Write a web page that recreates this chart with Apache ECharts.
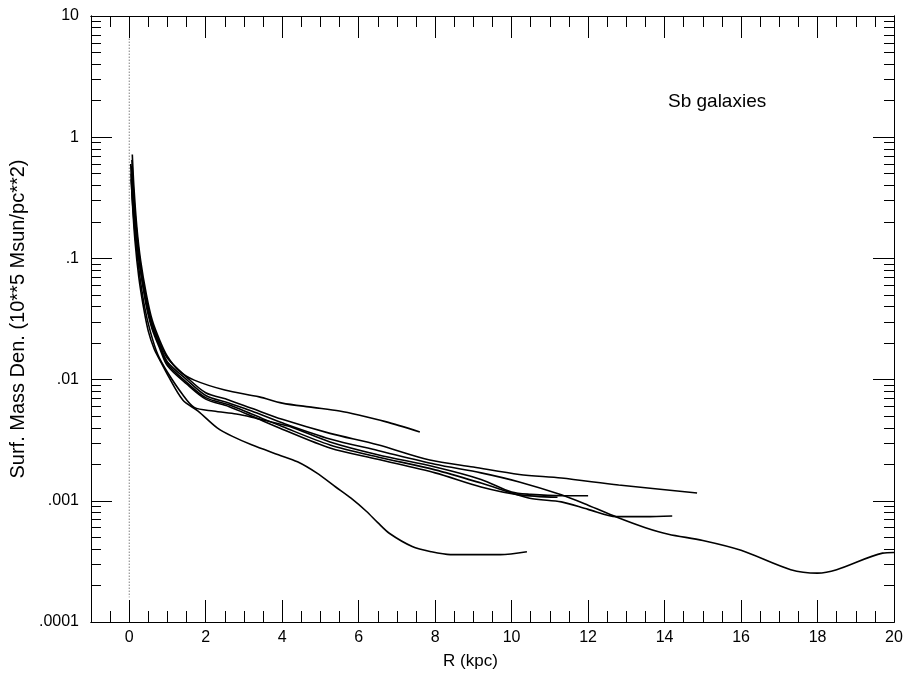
<!DOCTYPE html>
<html>
<head>
<meta charset="utf-8">
<script src="https://cdn.jsdelivr.net/npm/echarts@6/dist/echarts.min.js"></script>
<style>
  html, body { margin: 0; padding: 0; background: #fff; }
  #main { width: 908px; height: 689px; }
</style>
</head>
<body>
<div id="main"></div>
<script>
// tick values and labels
var xMajor = [0, 2, 4, 6, 8, 10, 12, 14, 16, 18, 20];
var xMinor = [-0.5, 0.5, 1, 1.5, 2.5, 3, 3.5, 4.5, 5, 5.5, 6.5, 7, 7.5, 8.5, 9, 9.5,
    10.5, 11, 11.5, 12.5, 13, 13.5, 14.5, 15, 15.5, 16.5, 17, 17.5, 18.5, 19, 19.5];
var yMajor = [0.0001, 0.001, 0.01, 0.1, 1, 10];
var yMajorLabels = ['.0001', '.001', '.01', '.1', '1', '10'];
var yMinor = [];
[0.0001, 0.001, 0.01, 0.1, 1].forEach(function (d) {
    for (var k = 2; k <= 9; k++) yMinor.push(k * d);
});

// dotted marker at R = 0
var zeroLine = [[0, 6.5], [0, 0.00016]];

// surface mass density curves, [R (kpc), density]
var galaxy1 = [[0.08, 0.72], [0.12, 0.4], [0.2, 0.18], [0.3, 0.095], [0.45, 0.05], [0.6, 0.031],
    [0.8, 0.021], [1.0, 0.0155], [1.3, 0.0118], [1.7, 0.0099], [2.5, 0.0082], [3.4, 0.0072],
    [4.0, 0.0064], [4.8, 0.0059], [5.5, 0.0055], [6.0, 0.0051], [6.7, 0.0045], [7.6, 0.0037]];
var galaxy2 = [[0.04, 0.6], [0.08, 0.3], [0.15, 0.14], [0.25, 0.07], [0.37, 0.04], [0.5, 0.025],
    [0.65, 0.018], [0.8, 0.0145], [1.0, 0.011], [1.4, 0.0068], [1.8, 0.0055], [2.3, 0.0040],
    [2.7, 0.0034], [3.2, 0.0029], [3.9, 0.0024], [4.4, 0.0021], [4.9, 0.0017], [5.4, 0.0013],
    [5.8, 0.00105], [6.2, 0.00082], [6.5, 0.00066], [6.8, 0.00054], [7.4, 0.00042], [7.9, 0.00038],
    [8.4, 0.00036], [9.7, 0.00036], [10.4, 0.00038]];
var galaxy3 = [[0.05, 0.45], [0.1, 0.25], [0.18, 0.13], [0.28, 0.07], [0.4, 0.04], [0.55, 0.025],
    [0.75, 0.016], [1.0, 0.0115], [1.4, 0.0075], [1.7, 0.0059], [2.2, 0.0055], [2.8, 0.0052],
    [3.2, 0.0049], [3.8, 0.0044], [4.2, 0.0041], [5.25, 0.00306], [6.5, 0.0024], [8.0, 0.0019],
    [9.2, 0.0015], [10.0, 0.00118], [10.5, 0.00113], [11.3, 0.0011], [12.0, 0.0011]];
var galaxy4 = [[0.07, 0.65], [0.12, 0.32], [0.2, 0.16], [0.3, 0.085], [0.45, 0.045], [0.6, 0.028],
    [0.8, 0.019], [1.0, 0.0135], [1.5, 0.0095], [2.0, 0.0071], [2.6, 0.0062], [3.2, 0.0052],
    [4.0, 0.0041], [5.25, 0.00289], [6.5, 0.0023], [8.0, 0.0018], [9.2, 0.0014], [10.47, 0.00105],
    [11.3, 0.00098], [12.0, 0.00085], [12.74, 0.00074], [13.5, 0.00074], [14.2, 0.00075]];
var galaxy5 = [[0.05, 0.5], [0.1, 0.28], [0.2, 0.14], [0.3, 0.08], [0.45, 0.045], [0.6, 0.029],
    [0.8, 0.02], [1.0, 0.015], [1.5, 0.0105], [2.0, 0.0078], [2.6, 0.0068], [3.2, 0.0058],
    [4.0, 0.0047], [5.25, 0.0036], [6.5, 0.0029], [7.86, 0.00217], [9.0, 0.0019], [10.2, 0.00165],
    [11.3, 0.00154], [12.8, 0.00135], [14.85, 0.00116]];
var galaxy6 = [[0.06, 0.58], [0.12, 0.3], [0.2, 0.15], [0.3, 0.08], [0.45, 0.042], [0.6, 0.027],
    [0.8, 0.019], [1.0, 0.014], [1.5, 0.0100], [2.0, 0.0074], [2.6, 0.0064], [3.2, 0.0055],
    [4.0, 0.0044], [5.25, 0.00324], [6.5, 0.0026], [8.0, 0.0020], [9.2, 0.0017], [10.2, 0.00143],
    [11.3, 0.00112], [12.0, 0.00092], [12.74, 0.000735], [13.5, 0.0006], [14.1, 0.00053],
    [15.0, 0.00047], [16.0, 0.00039], [17.3, 0.00027], [18.0, 0.000253], [18.5, 0.00027],
    [19.7, 0.00037], [20.0, 0.000375]];
var galaxy7 = [[0.1, 0.4], [0.15, 0.22], [0.22, 0.12], [0.32, 0.07], [0.45, 0.04], [0.6, 0.026],
    [0.8, 0.018], [1.0, 0.013], [1.5, 0.0092], [2.0, 0.0069], [2.6, 0.0060], [3.2, 0.0050],
    [4.0, 0.0039], [5.25, 0.00273], [6.5, 0.0022], [8.0, 0.0017], [9.2, 0.0013], [10.2, 0.00112],
    [11.2, 0.00107]];

var galaxies = [galaxy1, galaxy2, galaxy3, galaxy4, galaxy5, galaxy6, galaxy7];

var FONT = 'Liberation Sans, Arial, sans-serif';

var myChart = echarts.init(document.getElementById('main'));

var xAxisBase = function (pos, ticks, len, withLabels) {
    return {
        type: 'value', min: -1, max: 20, position: pos,
        axisLine: { show: true, onZero: false, lineStyle: { color: '#000', width: 1 } },
        splitLine: { show: false },
        axisTick: { show: true, inside: true, length: len, customValues: ticks,
            lineStyle: { color: '#000', width: 1 } },
        axisLabel: withLabels ? { show: true, customValues: xMajor, fontSize: 16, color: '#000',
            fontFamily: FONT, margin: 8 } : { show: false }
    };
};

var yAxisBase = function (pos, ticks, len, withLabels) {
    return {
        type: 'log', logBase: 10, min: 0.0001, max: 10, position: pos,
        axisLine: { show: true, onZero: false, lineStyle: { color: '#000', width: 1 } },
        splitLine: { show: false },
        minorTick: { show: false },
        axisTick: { show: true, inside: true, length: len, customValues: ticks,
            lineStyle: { color: '#000', width: 1 } },
        axisLabel: withLabels ? {
            show: true, customValues: yMajor, fontSize: 16, color: '#000', fontFamily: FONT, margin: 12,
            formatter: function (v) {
                for (var i = 0; i < yMajor.length; i++) {
                    if (Math.abs(Math.log10(v) - Math.log10(yMajor[i])) < 1e-6) return yMajorLabels[i];
                }
                return '';
            }
        } : { show: false }
    };
};

var xMain = xAxisBase('bottom', xMajor, 22, true);
xMain.name = 'R (kpc)';
xMain.nameLocation = 'middle';
xMain.nameGap = 31;
xMain.nameTextStyle = { fontSize: 17, color: '#000', fontFamily: FONT, padding: [0, 44, 0, 0] };

var yMain = yAxisBase('left', yMajor, 21, true);
yMain.name = 'Surf. Mass Den. (10**5 Msun/pc**2)';
yMain.nameLocation = 'middle';
yMain.nameGap = 63;
yMain.nameTextStyle = { fontSize: 20, color: '#000', fontFamily: FONT };

var series = galaxies.map(function (g, i) {
    return {
        name: 'galaxy' + (i + 1),
        type: 'line',
        data: g,
        xAxisIndex: 0, yAxisIndex: 0,
        showSymbol: false,
        smooth: 0.3,
        lineStyle: { color: '#000', width: 1.6 },
        silent: true
    };
});
series.unshift({
    name: 'zero',
    type: 'line',
    data: zeroLine,
    showSymbol: false,
    lineStyle: { color: '#444', width: 1, type: [1, 2] },
    silent: true
});

var option = {
    animation: false,
    backgroundColor: '#fff',
    title: {
        text: 'Sb galaxies',
        left: 663, top: 87,
        textStyle: { fontSize: 19, fontWeight: 'normal', color: '#000', fontFamily: FONT }
    },
    grid: { left: 91, right: 14, top: 16, bottom: 67, containLabel: false },
    xAxis: [
        xMain,
        xAxisBase('bottom', xMinor, 11, false),
        xAxisBase('top', xMajor, 22, false),
        xAxisBase('top', xMinor, 11, false)
    ],
    yAxis: [
        yMain,
        yAxisBase('left', yMinor, 10, false),
        yAxisBase('right', yMajor, 21, false),
        yAxisBase('right', yMinor, 10, false)
    ],
    series: series
};

myChart.setOption(option);
</script>
</body>
</html>
